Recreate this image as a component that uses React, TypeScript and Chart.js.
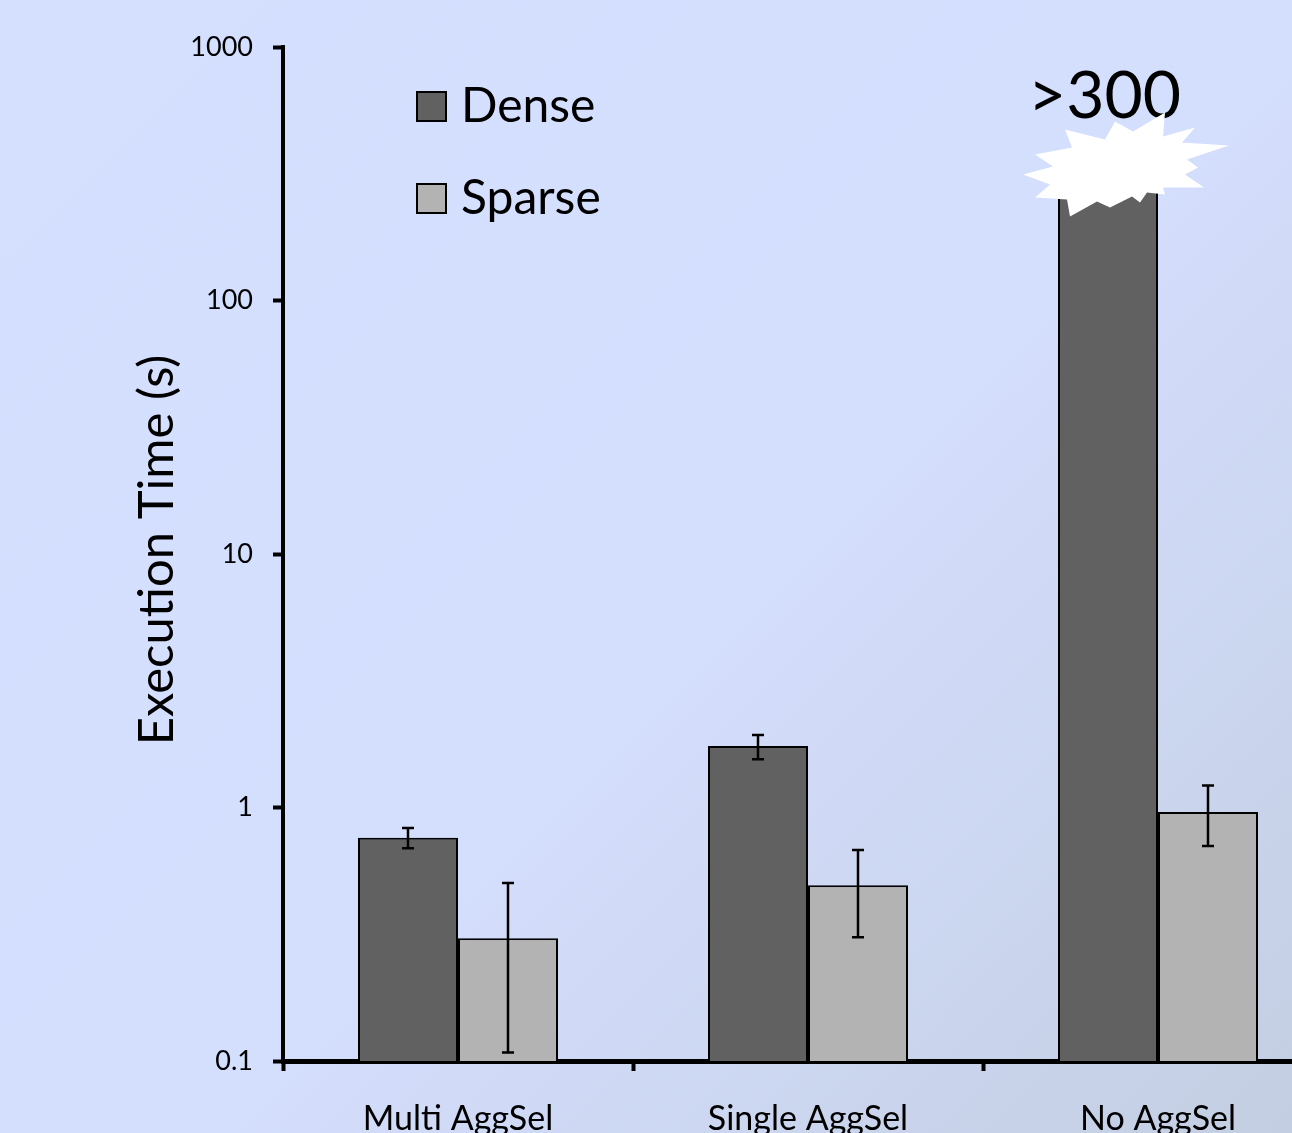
import React, { useEffect, useRef } from "react";
import { Chart, registerables } from "chart.js";

Chart.register(...registerables);

const categories = ["Multi AggSel", "Single AggSel", "No AggSel"];
const seriesNames = ["Dense", "Sparse"];
const denseValues = [0.76, 1.75, 300];
const sparseValues = [0.305, 0.494, 0.96];
const denseErrLow = [0.69, 1.55, null];
const denseErrHigh = [0.83, 1.93, null];
const sparseErrLow = [0.108, 0.308, 0.705];
const sparseErrHigh = [0.504, 0.679, 1.22];
const yTickValues = [0.1, 1, 10, 100, 1000];
const yTitle = "Execution Time (s)";
const overflowLabel = ">300";
const overflowIndex = 2;

const FONT = "Lato, 'Open Sans', sans-serif";
const DENSE_COLOR = "#616161";
const SPARSE_COLOR = "#b3b3b3";
const CANVAS_W = 1345;
const CANVAS_H = 1160;

const burst: [number, number][] = [
  [57, -67], [55, -43], [87, -52], [74, -37], [121, -34], [79, -20], [90, -12],
  [77, -5], [96, 8], [55, 8], [57, 15], [39, 13], [32, 23], [24, 17], [2, 28],
  [-11, 22], [-38, 37], [-41, 20], [-73, 18], [-58, 5], [-85, -5], [-55, -13],
  [-73, -25], [-36, -32], [-43, -50], [-3, -40], [7, -58], [25, -48],
];

const decorPlugin = {
  id: "decor",
  afterDatasetsDraw(chart: any) {
    const ctx = chart.ctx;
    const yScale = chart.scales.y;
    const area = chart.chartArea;
    const lows = [denseErrLow, sparseErrLow];
    const highs = [denseErrHigh, sparseErrHigh];
    ctx.save();
    // error bars
    ctx.strokeStyle = "#000";
    ctx.lineWidth = 2.5;
    for (let d = 0; d < 2; d++) {
      const meta = chart.getDatasetMeta(d);
      meta.data.forEach((bar: any, j: number) => {
        const lo = lows[d][j];
        const hi = highs[d][j];
        if (lo == null || hi == null) return;
        const x = bar.x;
        const y1 = yScale.getPixelForValue(lo);
        const y2 = yScale.getPixelForValue(hi);
        ctx.beginPath();
        ctx.moveTo(x, y1);
        ctx.lineTo(x, y2);
        ctx.moveTo(x - 6, y1);
        ctx.lineTo(x + 6, y1);
        ctx.moveTo(x - 6, y2);
        ctx.lineTo(x + 6, y2);
        ctx.stroke();
      });
    }
    // overflow label + burst
    const ob = chart.getDatasetMeta(0).data[overflowIndex];
    const cx = ob.x;
    const cy = yScale.getPixelForValue(denseValues[overflowIndex]);
    ctx.fillStyle = "#000";
    ctx.font = `66px ${FONT}`;
    ctx.textAlign = "left";
    ctx.textBaseline = "alphabetic";
    ctx.fillText(overflowLabel, cx - 80, cy - 62);
    ctx.fillStyle = "#fff";
    ctx.beginPath();
    burst.forEach(([dx, dy], i) => {
      if (i === 0) ctx.moveTo(cx + dx, cy + dy);
      else ctx.lineTo(cx + dx, cy + dy);
    });
    ctx.closePath();
    ctx.fill();
    // legend
    const colors = [DENSE_COLOR, SPARSE_COLOR];
    const lx = area.left + 134;
    const rowTops = [area.top + 45, area.top + 137];
    seriesNames.forEach((name, i) => {
      const ty = rowTops[i];
      ctx.fillStyle = colors[i];
      ctx.fillRect(lx, ty, 29, 29);
      ctx.strokeStyle = "#000";
      ctx.lineWidth = 2;
      ctx.strokeRect(lx, ty, 29, 29);
      ctx.fillStyle = "#000";
      ctx.font = `48px ${FONT}`;
      ctx.textAlign = "left";
      ctx.textBaseline = "alphabetic";
      ctx.fillText(name, lx + 44, ty + 30);
    });
    // y title
    ctx.translate(157, (area.top + area.bottom) / 2 - 4);
    ctx.rotate(-Math.PI / 2);
    ctx.font = `49px ${FONT}`;
    ctx.textAlign = "center";
    ctx.textBaseline = "middle";
    ctx.fillStyle = "#000";
    ctx.fillText(yTitle, 0, 0);
    ctx.restore();
  },
};

export default function App() {
  const ref = useRef<HTMLCanvasElement | null>(null);
  useEffect(() => {
    if (!ref.current) return;
    const chart = new Chart(ref.current, {
      type: "bar",
      data: {
        labels: categories,
        datasets: [
          {
            label: seriesNames[0],
            data: denseValues,
            backgroundColor: DENSE_COLOR,
            borderColor: "#000",
            borderWidth: 2,
            categoryPercentage: 200 / 350,
            barPercentage: 1,
          },
          {
            label: seriesNames[1],
            data: sparseValues,
            backgroundColor: SPARSE_COLOR,
            borderColor: "#000",
            borderWidth: 2,
            categoryPercentage: 200 / 350,
            barPercentage: 1,
          },
        ],
      },
      options: {
        responsive: false,
        animation: false,
        layout: { padding: { top: 47, right: 12, left: 0, bottom: 0 } },
        plugins: { legend: { display: false }, tooltip: { enabled: false }, title: { display: false } },
        scales: {
          x: {
            offset: true,
            grid: {
              display: true,
              offset: true,
              drawOnChartArea: false,
              drawTicks: true,
              tickLength: 10,
              tickWidth: 4,
              tickColor: "#000",
            },
            border: { display: true, width: 5, color: "#000" },
            ticks: {
              color: "#000",
              font: { family: FONT, size: 34 },
              padding: 28,
              maxRotation: 0,
            },
            afterFit: (s: any) => {
              s.height = CANVAS_H - 1061;
            },
          },
          y: {
            type: "logarithmic",
            min: 0.1,
            max: 1000,
            grid: {
              display: true,
              drawOnChartArea: false,
              drawTicks: true,
              tickLength: 10,
              tickWidth: 4,
              tickColor: "#000",
            },
            border: { display: true, width: 4, color: "#000" },
            afterBuildTicks: (s: any) => {
              s.ticks = yTickValues.map((v) => ({ value: v }));
            },
            ticks: {
              color: "#000",
              font: { family: FONT, size: 27 },
              padding: 20,
              callback: (v: any) => String(v),
            },
            afterFit: (s: any) => {
              s.width = 283;
            },
          },
        },
      },
      plugins: [decorPlugin],
    });
    return () => chart.destroy();
  }, []);
  return (
    <div
      style={{
        position: "absolute",
        left: 0,
        top: 0,
        width: 1292,
        height: 1133,
        overflow: "hidden",
        background: "linear-gradient(135deg, #d5dfff 0%, #d4defd 55%, #c3cee2 100%)",
      }}
    >
      <canvas ref={ref} width={CANVAS_W} height={CANVAS_H} style={{ display: "block", width: CANVAS_W, height: CANVAS_H }} />
    </div>
  );
}
